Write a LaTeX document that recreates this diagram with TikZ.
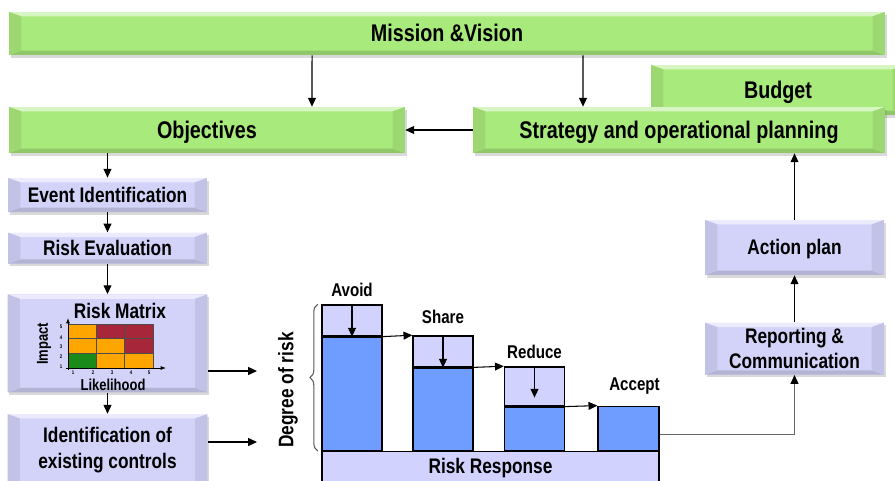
\documentclass[tikz,border=0pt]{standalone}
\usepackage{fontspec}
\setmainfont{Liberation Sans}[FakeStretch=0.82]
\usetikzlibrary{positioning,arrows.meta,shadows,decorations.pathreplacing}

\definecolor{boxgreen}{HTML}{A9EA7C}
\definecolor{boxlav}{HTML}{D3D3FA}
\definecolor{barblue}{HTML}{6E9DFF}
\definecolor{barlav}{HTML}{D2D2FF}
\definecolor{cellorange}{HTML}{FFA500}
\definecolor{cellred}{HTML}{A8263A}
\definecolor{cellgreen}{HTML}{1A8A1A}

\tikzset{
  % bevelled edges for the boxes
  bevel/.style={path picture={
    \coordinate (bnw) at (path picture bounding box.north west);
    \coordinate (bne) at (path picture bounding box.north east);
    \coordinate (bsw) at (path picture bounding box.south west);
    \coordinate (bse) at (path picture bounding box.south east);
    \fill[#1!45!white] (bnw) -- (bne) -- ([shift={(-7pt,-2.5pt)}]bne) -- ([shift={(7pt,-2.5pt)}]bnw) -- cycle;
    \fill[#1!85!black] (bsw) -- (bse) -- ([shift={(-7pt,2.5pt)}]bse) -- ([shift={(7pt,2.5pt)}]bsw) -- cycle;
    \fill[#1!92!black] (bnw) -- ([shift={(7pt,-2.5pt)}]bnw) -- ([shift={(7pt,2.5pt)}]bsw) -- (bsw) -- cycle;
    \fill[#1!92!black] (bne) -- ([shift={(-7pt,-2.5pt)}]bne) -- ([shift={(-7pt,2.5pt)}]bse) -- (bse) -- cycle;
  }},
  boxshadow/.style={drop shadow={shadow xshift=1pt, shadow yshift=-1.5pt, opacity=0.3}},
  bigtext/.style={font=\bfseries\fontsize{13.7}{16}\selectfont, text height=12.4pt, text depth=2.9pt},
  boxtext/.style={font=\bfseries\fontsize{12}{14.5}\selectfont},
  oneline/.style={text height=10.9pt, text depth=2.5pt},
  steptext/.style={font=\bfseries\fontsize{10.5}{12}\selectfont},
  axistext/.style={font=\bfseries\fontsize{9}{10}\selectfont},
  ticktext/.style={font=\bfseries\fontsize{3}{3}\selectfont, inner sep=0pt},
  greenbox/.style={fill=boxgreen, bevel=boxgreen, boxshadow, bigtext, inner sep=0pt},
  lavbox/.style={fill=boxlav, bevel=boxlav, boxshadow, boxtext, align=center, inner sep=0pt},
  bar/.style={draw, line width=0.8pt, fill=barblue, minimum width=1.2cm, inner sep=0pt, anchor=south},
  barcap/.style={bar, fill=barlav},
  conn/.style={-{Triangle[length=5pt,width=4.5pt]}, line width=0.6pt},
}

\begin{document}
\begin{tikzpicture}[x=0.02cm, y=-0.02cm]
\useasboundingbox (0,0) rectangle (895,480);

% planning boxes
\node[greenbox, minimum width=17.52cm, minimum height=0.86cm] (mission) at (447,33.5) {Mission \&Vision};
\node[greenbox, minimum width=5.08cm, minimum height=1cm] (budget) at (778,90) {Budget};
\node[greenbox, minimum width=8.24cm, minimum height=0.92cm] (strategy) at (679,130) {Strategy and operational planning};
\node[greenbox, minimum width=7.92cm, minimum height=0.92cm] (objectives) at (207,130) {Objectives};

% assessment column
\node[lavbox, oneline, minimum width=3.98cm, minimum height=0.68cm] (event) at (107.5,195) {Event Identification};
\node[lavbox, oneline, minimum width=3.98cm, minimum height=0.62cm, below=0.4cm of event] (riskeval) {Risk Evaluation};
\node[lavbox, minimum width=4cm, minimum height=1.96cm, below=0.6cm of riskeval] (matrix) {};
\node[lavbox, minimum width=4cm, minimum height=1.44cm, below=0.42cm of matrix] (controls) {Identification of\\existing controls};

% the small matrix
\node[boxtext, inner sep=0pt] (mtitle) at (120,311) {Risk Matrix};
\foreach \i/\j/\c in {0/0/cellorange,1/0/cellred,2/0/cellred,
                      0/1/cellorange,1/1/cellorange,2/1/cellred,
                      0/2/cellgreen,1/2/cellorange,2/2/cellorange}
  \draw[fill=\c, draw=black!70, line width=0.3pt] ({68+28.33*\i},{324+14.67*\j}) rectangle ++(28.33,14.67);
\draw[-{Latex[length=3pt]}, line width=0.5pt] (68,370) -- (68,318);
\draw[-{Latex[length=3pt]}, line width=0.5pt] (66,368) -- (166,368);
\foreach \k/\xx in {1/73,2/93,3/112,4/131,5/149}
  \node[ticktext] (xt\k) at (\xx,373) {\k};
\foreach \k/\yy in {1/367,2/357,3/347,4/338,5/327}
  \node[ticktext] (yt\k) at (61,\yy) {\k};
\node[axistext, rotate=90, inner sep=0pt] (impact) at (44,344) {Impact};
\node[axistext, inner sep=0pt] (likelihood) at (113,385) {Likelihood};

% follow-up column
\node[lavbox, oneline, minimum width=3.58cm, minimum height=1.1cm] (action) at (794.5,247.5) {Action plan};
\node[lavbox, minimum width=3.58cm, minimum height=1.04cm, below=0.94cm of action] (report) {Reporting \&\\Communication};

% response steps
\node[bar, minimum height=2.26cm] (avoid) at (352,451) {};
\node[barcap, minimum height=0.62cm] (avoidcap) at (avoid.north) {};
\node[bar, minimum height=1.64cm] (share) at (443,451) {};
\node[barcap, minimum height=0.62cm] (sharecap) at (share.north) {};
\node[bar, minimum height=0.86cm] (reduce) at (534.5,451) {};
\node[barcap, minimum height=0.78cm] (reducecap) at (reduce.north) {};
\node[bar, minimum height=0.88cm, minimum width=1.22cm] (accept) at (628.5,451) {};
\node[barcap, anchor=north, minimum width=6.74cm, minimum height=0.66cm, boxtext] (response) at (490.5,451) {Risk Response};

\node[steptext, above=1pt of avoidcap] (avoidlbl) {Avoid};
\node[steptext, above=3pt of sharecap] (sharelbl) {Share};
\node[steptext, above=1pt of reducecap] (reducelbl) {Reduce};
\node[steptext, above=3pt of accept, xshift=0.12cm] (acceptlbl) {Accept};

\node[boxtext, rotate=90] (degree) at (288,390) {Degree of risk};
\draw[black!65, line width=0.6pt, decorate, decoration={brace, amplitude=4.5pt}]
  ([xshift=-2pt]avoid.south west) -- ([xshift=-2pt]avoidcap.north west);

\coordinate (risktip) at (257,371);
\coordinate (ctrltip) at (257,442);

% connectors
\draw[conn] ([xshift=-2.7cm]mission.south) -- ([xshift=2.1cm]objectives.north);
\draw[conn] ([xshift=2.72cm]mission.south) -- ([xshift=-1.92cm]strategy.north);
\draw[conn] (strategy) -- (objectives);
\draw[conn] (objectives.south -| event.north) -- (event);
\draw[conn] (event) -- (riskeval);
\draw[conn] (riskeval) -- (matrix);
\draw[conn] (matrix) -- (controls);
\draw[conn] (matrix.east |- risktip) -- (risktip);
\draw[conn] (controls.east |- ctrltip) -- (ctrltip);

\draw[conn] (avoidcap.north) -- (avoid.north);
\draw[conn] (sharecap.north) -- (share.north);
\draw[conn] (reducecap.north) -- ([yshift=0.18cm]reduce.north);
\draw[conn] (avoid.north east) -- (sharecap.north west);
\draw[conn] ([xshift=-0.12cm]share.north east) -- (reducecap.north west);
\draw[conn] (reduce.north east) -- (accept.north west);

\draw[black!60, line width=0.6pt, -{Triangle[length=5pt,width=4.5pt,black]}] ([yshift=-0.12cm]accept.east) -| (report.south);
\draw[conn] (report) -- (action);
\draw[conn] (action) -- (action.north |- strategy.south);
\end{tikzpicture}
\end{document}
